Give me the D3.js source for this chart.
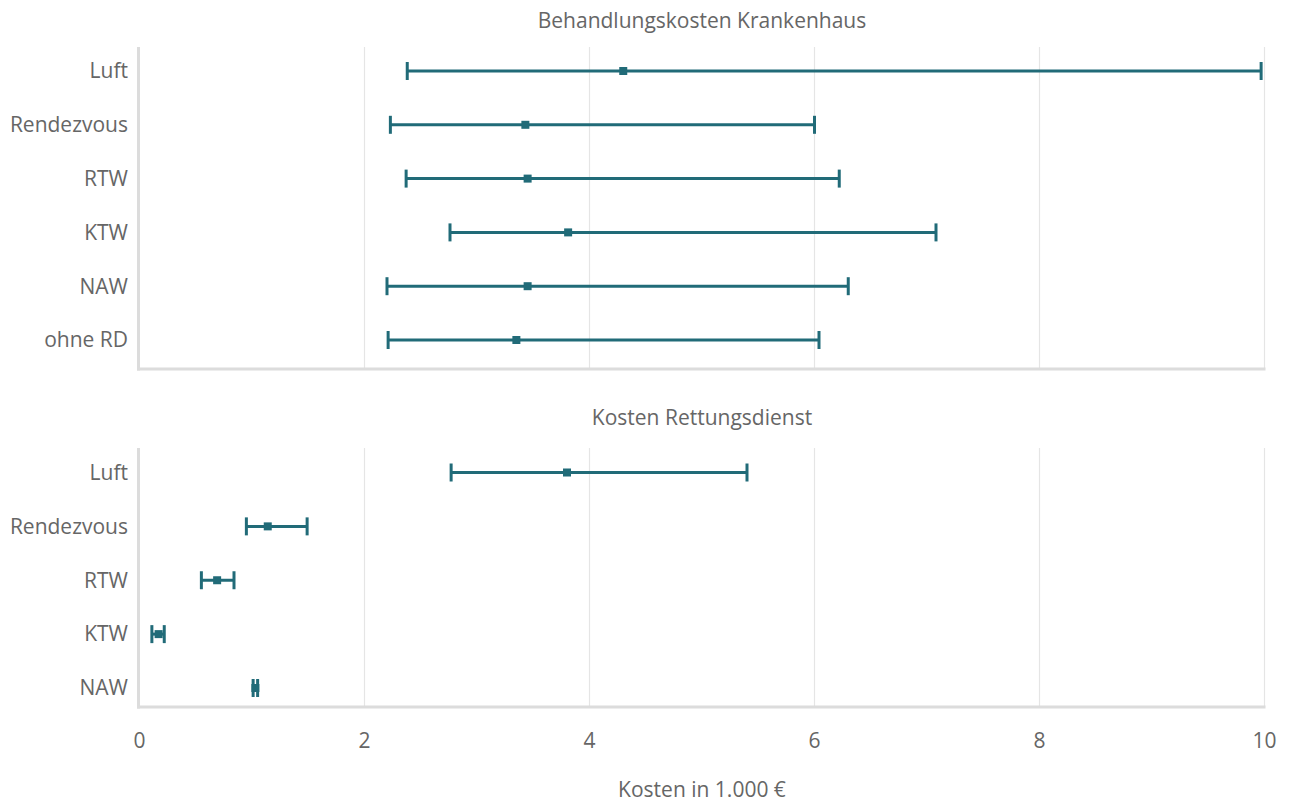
<!DOCTYPE html>
<html><head><meta charset="utf-8">
<script src="https://cdn.jsdelivr.net/npm/d3@7"></script>
<style>
body{margin:0;background:#fff;}
text{font-family:"Open Sans",Lato,sans-serif;fill:#666;}
</style></head>
<body><svg id="c" width="1289" height="803"></svg>
<script>
// Data (values in 1.000 €)
const topTitle = "Behandlungskosten Krankenhaus";
const topCategories = ["Luft","Rendezvous","RTW","KTW","NAW","ohne RD"];
const topMean  = [4.30, 3.43, 3.45, 3.81, 3.45, 3.35];
const topLow   = [2.38, 2.23, 2.37, 2.76, 2.20, 2.21];
const topHigh  = [9.97, 6.00, 6.22, 7.08, 6.30, 6.04];

const botTitle = "Kosten Rettungsdienst";
const botCategories = ["Luft","Rendezvous","RTW","KTW","NAW"];
const botMean  = [3.80, 1.14, 0.69, 0.17, 1.03];
const botLow   = [2.77, 0.95, 0.55, 0.11, 1.01];
const botHigh  = [5.40, 1.49, 0.84, 0.22, 1.05];

const xTicks = [0,2,4,6,8,10];
const xTitle = "Kosten in 1.000 €";

const color = "#216b78";
const svg = d3.select("#c");
const x = d3.scaleLinear().domain([0,10]).range([139.5,1264.5]);

function panel(title, cats, mean, low, high, top, bottom, yr, titleY, showAxis){
  const g = svg.append("g");
  const y = d3.scalePoint().domain(cats).range(yr);
  // grid
  g.selectAll("line.grid").data(xTicks.filter(d=>d>0)).enter().append("line")
    .attr("x1",d=>x(d)).attr("x2",d=>x(d)).attr("y1",top).attr("y2",bottom)
    .attr("stroke","#e5e5e5").attr("stroke-width",1.2);
  // axis lines
  g.append("line").attr("x1",x(0)-1).attr("x2",x(0)-1).attr("y1",top).attr("y2",bottom+1.5)
    .attr("stroke","#dcdcdc").attr("stroke-width",3);
  g.append("line").attr("x1",x(0)-2.5).attr("x2",x(10)+1).attr("y1",bottom).attr("y2",bottom)
    .attr("stroke","#dcdcdc").attr("stroke-width",3);
  // category labels
  g.selectAll("text.cat").data(cats).enter().append("text")
    .attr("x",128).attr("y",d=>y(d)).attr("dy","0.35em").attr("text-anchor","end")
    .style("font-size","21px").text(d=>d);
  // title
  g.append("text").attr("x",(x(0)+x(10))/2).attr("y",titleY).attr("text-anchor","middle")
    .style("font-size","21px").text(title);
  const rows = cats.map((c,i)=>({c, m:mean[i], lo:low[i], hi:high[i]}));
  const r = g.selectAll("g.row").data(rows).enter().append("g");
  r.append("line").attr("x1",d=>x(d.lo)).attr("x2",d=>x(d.hi))
    .attr("y1",d=>y(d.c)).attr("y2",d=>y(d.c)).attr("stroke",color).attr("stroke-width",3);
  r.append("line").attr("x1",d=>x(d.lo)).attr("x2",d=>x(d.lo))
    .attr("y1",d=>y(d.c)-9).attr("y2",d=>y(d.c)+9).attr("stroke",color).attr("stroke-width",3);
  r.append("line").attr("x1",d=>x(d.hi)).attr("x2",d=>x(d.hi))
    .attr("y1",d=>y(d.c)-9).attr("y2",d=>y(d.c)+9).attr("stroke",color).attr("stroke-width",3);
  r.append("rect").attr("x",d=>x(d.m)-4).attr("y",d=>y(d.c)-4).attr("width",8).attr("height",8)
    .attr("fill",color);
  if(showAxis){
    g.selectAll("text.tick").data(xTicks).enter().append("text")
      .attr("x",d=>x(d)).attr("y",bottom+41).attr("text-anchor","middle")
      .style("font-size","21px").text(d=>d);
    g.append("text").attr("x",(x(0)+x(10))/2).attr("y",bottom+90).attr("text-anchor","middle")
      .style("font-size","21px").text(xTitle);
  }
}
panel(topTitle, topCategories, topMean, topLow, topHigh, 47, 369, [71,340], 28, false);
panel(botTitle, botCategories, botMean, botLow, botHigh, 448, 707, [472.5,688], 425, true);
</script></body></html>
